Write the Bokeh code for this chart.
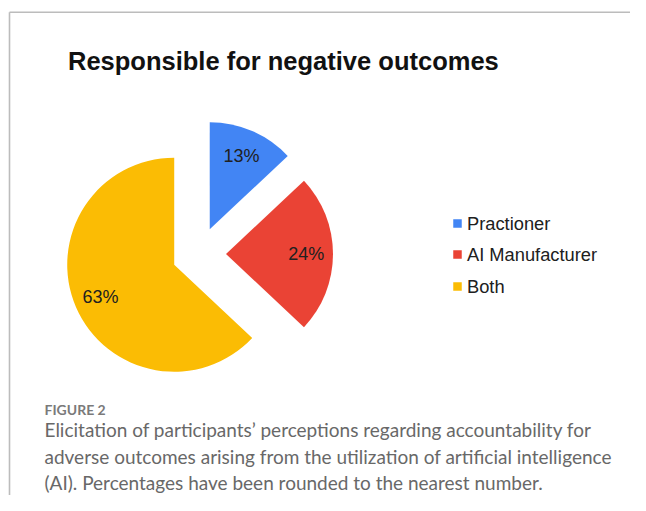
import numpy as np
from bokeh.plotting import figure
from bokeh.models import Range1d, ColumnDataSource
from bokeh.core.properties import value
from bokeh.embed import file_html
from bokeh.resources import INLINE

# ---- data ----
categories = ["Practioner", "AI Manufacturer", "Both"]
shares = [13, 24, 63]
slice_colors = ["#4285F4", "#EA4335", "#FBBC04"]
title_text = "Responsible for negative outcomes"
caption_head = "FIGURE 2"
caption_lines = [
    "Elicitation of participants\u2019 perceptions regarding accountability for",
    "adverse outcomes arising from the utilization of artificial intelligence",
    "(AI). Percentages have been rounded to the nearest number.",
]

# ---- layout (picture pixels; data y = -picture y) ----
W, H = 630, 495
cx, cy = 198.5, 253.5
R = 107
explode = 27
label_frac = 0.75

p = figure(width=W, height=H, x_range=Range1d(0, W), y_range=Range1d(-H, 0),
           output_backend="svg", toolbar_location=None, min_border=0,
           x_axis_type=None, y_axis_type=None, background_fill_color="white",
           border_fill_color="white")
p.grid.visible = False
p.outline_line_color = None

# frame border lines (decoration)
p.segment(x0=[9, 9], y0=[-11.7, -11.7], x1=[W, 9], y1=[-11.7, -H],
          line_color="#bcbcbc", line_width=1.6)

# pie slices
vals = np.array(shares, dtype=float)
frac = vals / vals.sum()
ends = np.cumsum(frac) * 2 * np.pi        # clockwise from 12 o'clock
starts = ends - frac * 2 * np.pi
mids = (starts + ends) / 2
px = cx + explode * np.sin(mids)
py = -cy + explode * np.cos(mids)
src = ColumnDataSource(dict(
    x=px, y=py,
    start=np.pi / 2 - ends, end=np.pi / 2 - starts,
    color=slice_colors,
    lx=px + label_frac * R * np.sin(mids),
    ly=py + label_frac * R * np.cos(mids),
    lab=[f"{v}%" for v in shares],
))
p.wedge(x="x", y="y", radius=R, start_angle="start", end_angle="end",
        fill_color="color", line_color=None, source=src)
p.text(x="lx", y="ly", text="lab", source=src, text_align="center",
       text_baseline="middle", text_font=value("Liberation Sans"),
       text_font_size="18px", text_color="#202020")

# title
p.text(x=[67.5], y=[-60.5], text=[title_text], text_font=value("Liberation Sans"),
       text_font_style="bold", text_font_size="25.5px", text_color="#111111",
       text_baseline="middle")

# legend
leg_y = -np.array([223.0, 254.0, 286.0])
p.scatter(x=[457] * 3, y=leg_y, marker="square", size=8.5,
          fill_color=slice_colors, line_color=None)
p.text(x=[466.5] * 3, y=leg_y, text=categories, text_font=value("Liberation Sans"),
       text_font_size="18.3px", text_color="#202020", text_baseline="middle")

# caption
p.text(x=[44], y=[-409], text=[caption_head], text_font=value("Lato"),
       text_font_style="bold", text_font_size="14px", text_color="#7a7a7a",
       text_baseline="middle")
p.text(x=[44] * 3, y=[-429.0, -455.5, -481.5], text=caption_lines,
       text_font=value("Lato"), text_font_size="19px", text_color="#686868",
       text_baseline="middle")

open("out.html", "w").write(file_html(p, INLINE))
